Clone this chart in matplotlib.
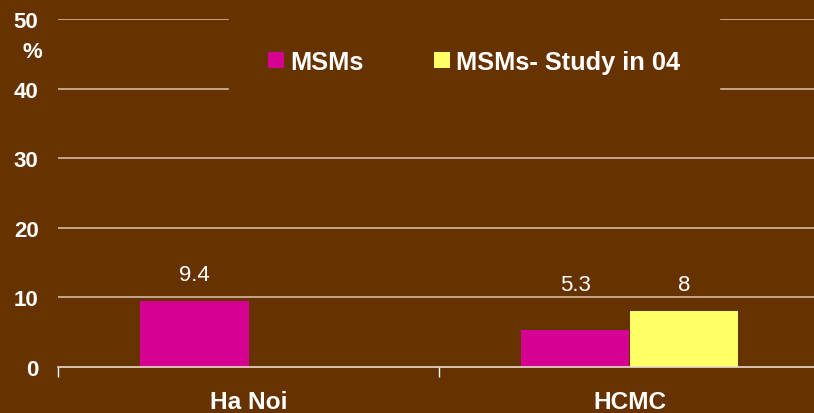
import matplotlib
matplotlib.use("Agg")
import matplotlib.pyplot as plt
import numpy as np

categories = ["Ha Noi", "HCMC"]
series_names = ["MSMs", "MSMs- Study in 04"]
msm_values = [9.4, 5.3]
study04_values = [np.nan, 8]
value_labels_msm = ["9.4", "5.3"]
value_labels_study = ["", "8"]
yticks = [0, 10, 20, 30, 40, 50]

BG = "#663300"
MAGENTA = "#D60093"
YELLOW = "#FFFF66"
GRID = "#C4A688"

plt.rcParams['font.family'] = ['Liberation Sans', 'DejaVu Sans']

fig = plt.figure(figsize=(8.14, 4.14), dpi=100, facecolor=BG)
ax = fig.add_axes([58/814, 1-367.7/414, (820-58)/814, (367.7-20.2)/414])
ax.set_facecolor(BG)

x = np.arange(len(categories))
w = 0.285
b1 = ax.bar(x - w/2, msm_values, w, color=MAGENTA, label=series_names[0], zorder=2)
b2 = ax.bar(x + w/2, study04_values, w, color=YELLOW, label=series_names[1], zorder=2)

# value labels, placed above the tallest bar of each group
for i in range(len(categories)):
    vals = [v for v in (msm_values[i], study04_values[i]) if not np.isnan(v)]
    top = max(vals)
    if value_labels_msm[i]:
        ax.annotate(value_labels_msm[i], (x[i] - w/2, top), xytext=(0, 19),
                    textcoords='offset points', ha='center', va='center',
                    color='white', fontsize=16)
    if value_labels_study[i]:
        ax.annotate(value_labels_study[i], (x[i] + w/2, top), xytext=(0, 19),
                    textcoords='offset points', ha='center', va='center',
                    color='white', fontsize=16)

ax.set_xlim(-0.5, len(categories) - 0.5)
ax.set_ylim(0, 50)
ax.set_yticks(yticks)
ax.set_yticklabels([str(t) for t in yticks], fontsize=16, fontweight='bold', color='white')
ax.tick_params(axis='y', length=0, pad=14)

ax.set_xticks(x)
ax.set_xticklabels(categories, fontsize=17.6, fontweight='bold', color='white')
ax.set_xticks([-0.5, 0.5, 1.5], minor=True)
ax.tick_params(axis='x', which='major', length=0, pad=16.5)
ax.tick_params(axis='x', which='minor', length=7, color='white', width=1, direction='out')

for gy in yticks[1:]:
    ax.axhline(gy, color=GRID, lw=1.4, zorder=1)

for s in ['left', 'right', 'top']:
    ax.spines[s].set_visible(False)
ax.spines['bottom'].set_color('#E8DDD0')
ax.spines['bottom'].set_linewidth(1.2)

fig.text(32/814, 1-53/414, '%', fontsize=16, fontweight='bold', color='white',
         ha='center', va='center')

leg = fig.legend(handles=[b1, b2], loc='center', bbox_to_anchor=(474/814, 1-63/414),
                 ncol=2, frameon=True, facecolor=BG, edgecolor=BG, framealpha=1,
                 prop={'weight': 'bold', 'size': 18.3},
                 handlelength=0.63, handleheight=0.63, handletextpad=0.25,
                 columnspacing=2.75, borderpad=1.55, fancybox=False)
for t in leg.get_texts():
    t.set_color('white')

fig.savefig("out.png", dpi=100, facecolor=BG)
